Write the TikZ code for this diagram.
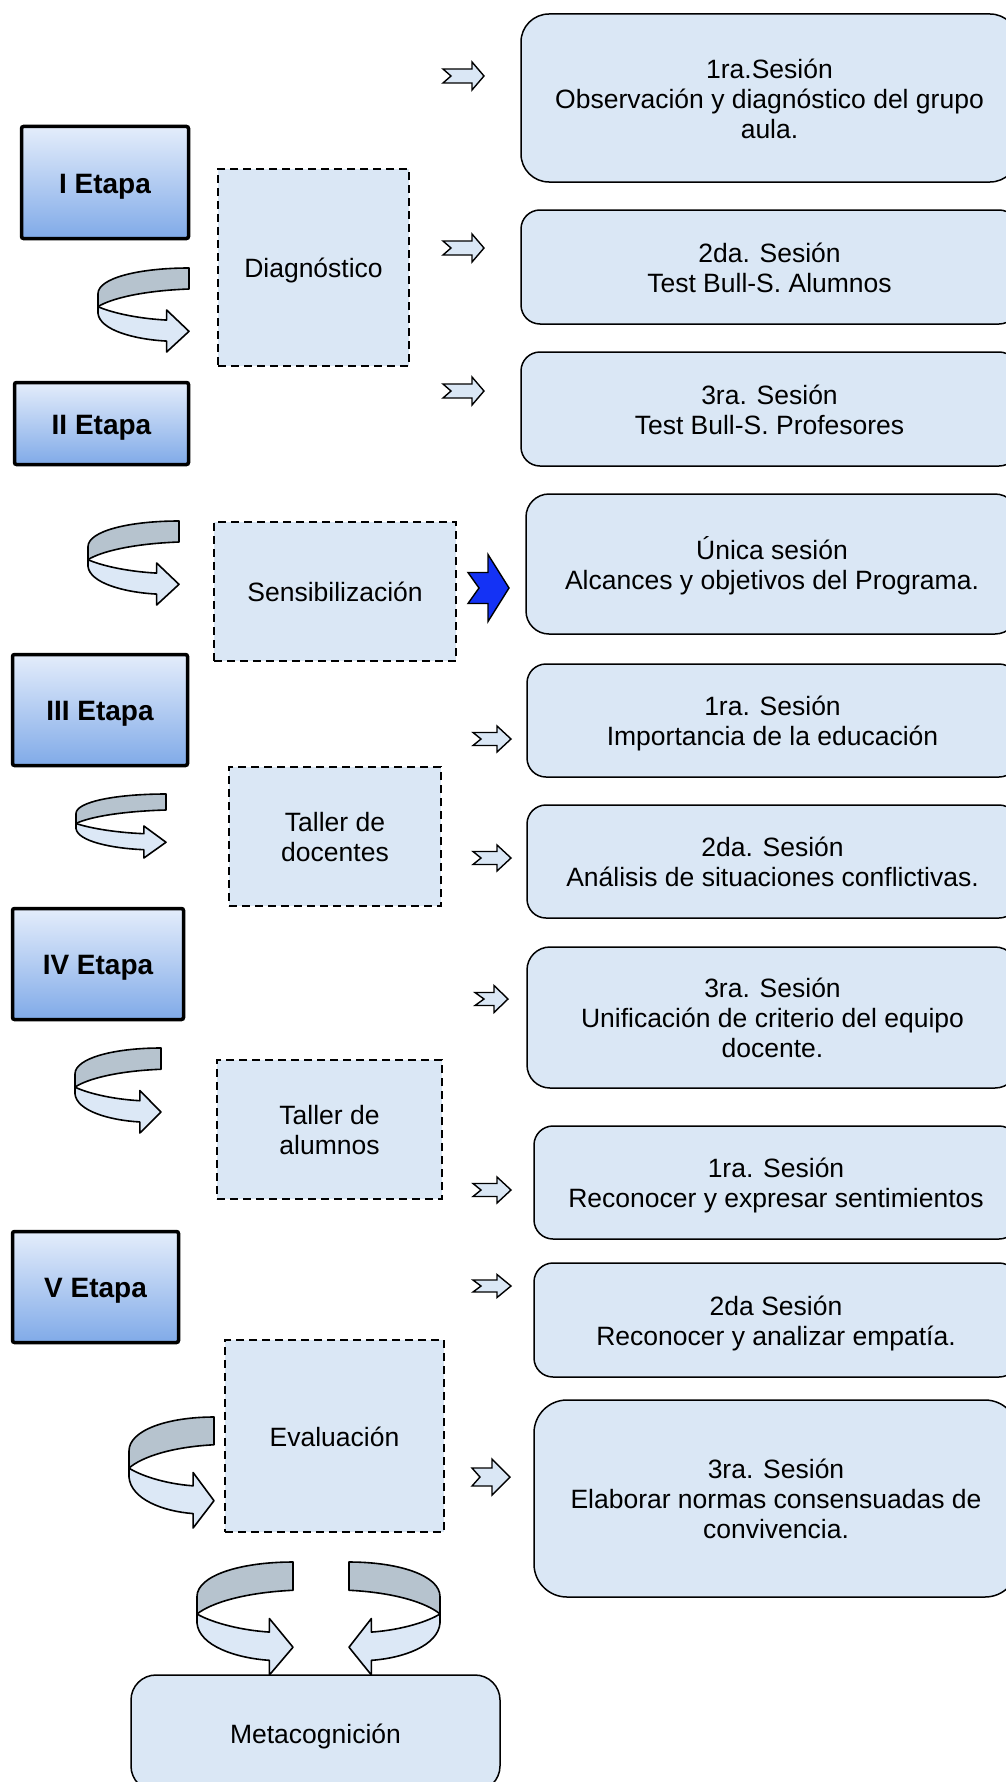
\documentclass[tikz,border=0pt]{standalone}
\usepackage{fontspec}
\setmainfont{Liberation Sans}
\definecolor{boxfill}{RGB}{218,231,245}
\definecolor{etTop}{RGB}{228,237,251}
\definecolor{etBot}{RGB}{128,170,232}
\definecolor{bandgray}{RGB}{182,195,206}
\definecolor{bandlight}{RGB}{220,232,246}
\definecolor{bluearr}{RGB}{20,50,245}
\newcommand\normtext{\fontsize{26.5}{30}\selectfont}
\newcommand\etaptext{\fontsize{28}{32}\selectfont\bfseries}
\newcommand\topstrut{\rule{0pt}{0.988em}}
\newcommand\botstrut{\rule[-0.212em]{0pt}{0.212em}}
\tikzset{
  etapa/.style={draw=black, line width=3.5pt, top color=etTop, bottom color=etBot, rounded corners=2pt, font=\etaptext, inner sep=0pt},
  stage/.style={draw=black, line width=1.8pt, dash pattern=on 8pt off 5pt, fill=boxfill, align=center, font=\normtext, inner sep=0pt},
  sesion/.style={draw=black, line width=1.5pt, fill=boxfill, align=center, font=\normtext, inner sep=0pt},
  notched/.style={draw=black, line width=1.4pt, line join=miter},
  band/.style={draw=black, line width=1.6pt, line join=round},
}
% style, name, x1, y1, x2, y2, text
\newcommand\placebox[7]{%
  \node[#1, minimum width={(#5-#3)*1pt}, minimum height={(#6-#4)*1pt}] (#2) at ({(#3+#5)/2},{(#4+#6)/2}) {\topstrut#7\botstrut};}
% fill, xtail, yc, notch, xbase, xtip, shaft half, head half
\newcommand\notcharrow[8]{%
  \filldraw[notched, fill=#1] (#2,{#3-#7}) -- (#5,{#3-#7}) -- (#5,{#3-#8}) -- (#6,#3) -- (#5,{#3+#8}) -- (#5,{#3+#7}) -- (#2,{#3+#7}) -- ({#2+#4},#3) -- cycle;}
% x0, y0, W, H
\newcommand\curvarr[4]{%
  \begin{scope}[shift={(#1,#2)}, xscale=#3, yscale=#4]
    \filldraw[band, fill=bandgray] (1,0) .. controls (0.45,0) and (0,0.12) .. (0,0.306) -- (0,0.46) .. controls (0.15,0.36) and (0.5,0.27) .. (1,0.25) -- cycle;
    \filldraw[band, fill=bandlight] (0,0.46) -- (0,0.54) .. controls (0.02,0.74) and (0.4,0.85) .. (0.754,0.87) -- (0.754,1) -- (1,0.754) -- (0.754,0.50) -- (0.754,0.62) .. controls (0.4,0.60) and (0.12,0.52) .. (0,0.46) -- cycle;
  \end{scope}}
\begin{document}
\begin{tikzpicture}[x=1pt,y=-1pt]
\useasboundingbox (0,0) rectangle (1006,1782);
\clip (0,0) rectangle (1006,1782);

% Etapas
\placebox{etapa}{e1}{21.5}{126.5}{188.5}{238.5}{I Etapa}
\placebox{etapa}{e2}{14.5}{382.5}{188.5}{464.5}{II Etapa}
\placebox{etapa}{e3}{12.5}{654.5}{187.5}{765.5}{III Etapa}
\placebox{etapa}{e4}{12.5}{908.5}{183.5}{1019.5}{IV Etapa}
\placebox{etapa}{e5}{12.5}{1231.5}{178.5}{1342.5}{V Etapa}

% dashed stage boxes
\placebox{stage}{d1}{218}{169}{409}{366}{Diagnóstico}
\placebox{stage}{d2}{214}{522}{456}{661}{Sensibilización}
\placebox{stage}{d3}{229}{767}{441}{906}{Taller de\\docentes}
\placebox{stage}{d4}{217}{1060}{442}{1199}{Taller de\\alumnos}
\placebox{stage}{d5}{225}{1340}{444}{1532}{Evaluación}

% session boxes
\placebox{sesion, rounded corners=28pt}{s1}{521}{14}{1018}{182}{1ra.Sesión\\Observación y diagnóstico del grupo\\aula.}
\placebox{sesion, rounded corners=19pt}{s2}{521}{210}{1018}{324}{2da. Sesión\\Test Bull-S. Alumnos}
\placebox{sesion, rounded corners=19pt}{s3}{521}{352}{1018}{466}{3ra. Sesión\\Test Bull-S. Profesores}
\placebox{sesion, rounded corners=23pt}{s4}{526}{494}{1018}{634}{Única sesión\\Alcances y objetivos del Programa.}
\placebox{sesion, rounded corners=19pt}{s5}{527}{664}{1018}{777}{1ra. Sesión\\Importancia de la educación}
\placebox{sesion, rounded corners=19pt}{s6}{527}{805}{1018}{918}{2da. Sesión\\Análisis de situaciones conflictivas.}
\placebox{sesion, rounded corners=23pt}{s7}{527}{947}{1018}{1088}{3ra. Sesión\\Unificación de criterio del equipo\\docente.}
\placebox{sesion, rounded corners=19pt}{s8}{534}{1126}{1018}{1239}{1ra. Sesión\\Reconocer y expresar sentimientos}
\placebox{sesion, rounded corners=19pt}{s9}{534}{1263}{1018}{1377}{2da Sesión\\Reconocer y analizar empatía.}
\placebox{sesion, rounded corners=33pt}{s10}{534}{1400}{1018}{1597}{3ra. Sesión\\Elaborar normas consensuadas de\\convivencia.}
\placebox{sesion, rounded corners=25pt}{meta}{131}{1675}{500}{1791}{Metacognición}

% small notched arrows
\notcharrow{boxfill}{443}{76}{8}{472}{484}{7}{14}
\notcharrow{boxfill}{443}{248}{8}{472}{484}{7}{14}
\notcharrow{boxfill}{443}{391}{8}{472}{484}{7}{14}
\notcharrow{bluearr}{468}{588}{11}{488}{509}{15.5}{33.5}
\notcharrow{boxfill}{473}{739}{8}{497}{511}{6.5}{13}
\notcharrow{boxfill}{473}{858}{8}{497}{511}{6.5}{13}
\notcharrow{boxfill}{475}{999}{9}{494}{508}{6.5}{13.5}
\notcharrow{boxfill}{473}{1190}{8}{497}{511}{6.5}{13}
\notcharrow{boxfill}{473}{1286}{8}{497}{511}{6}{11.5}
\notcharrow{boxfill}{472}{1477}{8}{492}{510}{9}{18}

% curved arrows
\curvarr{98}{268}{91}{84}
\curvarr{88}{521}{91}{84}
\curvarr{76}{794}{90}{64}
\curvarr{75}{1048}{86}{85}
\curvarr{129}{1417}{85}{111}
\curvarr{197}{1562}{96}{113}
\curvarr{440}{1562}{-91}{113}
\end{tikzpicture}
\end{document}
